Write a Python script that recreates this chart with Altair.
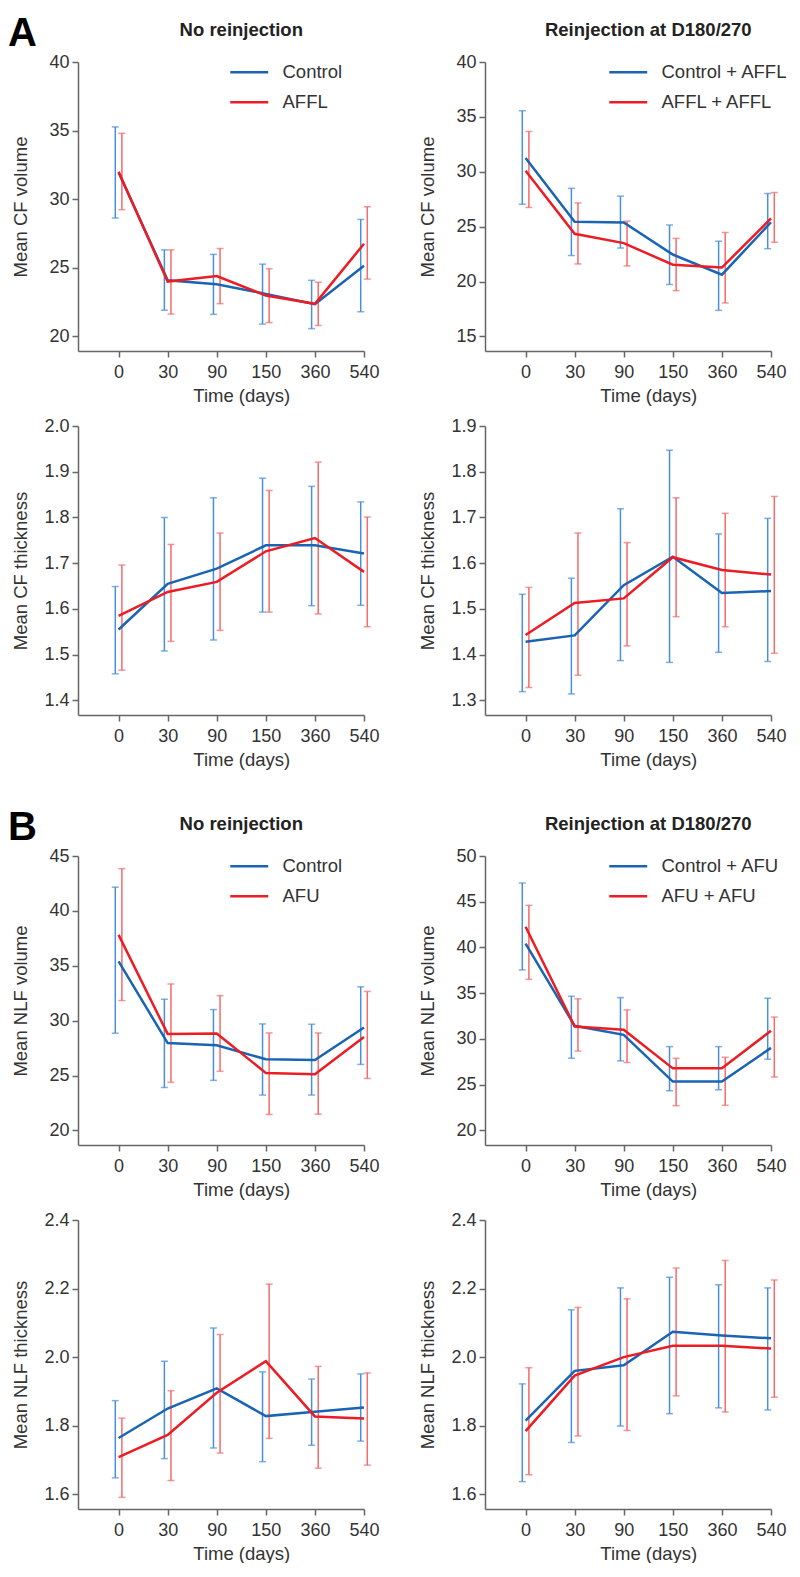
import altair as alt
import pandas as pd

FONT = "Liberation Sans"
TIME_LABELS = ["0", "30", "90", "150", "360", "540"]
TIME_IDX = [0, 1, 2, 3, 4, 5]

# ---- A, row 1: CF volume ----
a1_series = ["Control", "AFFL"]
a1_ctrl_mean = [31.95, 24.10, 23.80, 23.10, 22.35, 25.15]
a1_ctrl_lo = [28.63, 21.91, 21.61, 20.90, 20.57, 21.80]
a1_ctrl_hi = [35.27, 26.31, 25.98, 25.27, 24.09, 28.53]
a1_trt_mean = [32.00, 24.00, 24.40, 22.98, 22.38, 26.75]
a1_trt_lo = [29.24, 21.63, 22.39, 21.01, 20.80, 24.18]
a1_trt_hi = [34.80, 26.31, 26.41, 24.94, 23.95, 29.45]

a2_series = ["Control + AFFL", "AFFL + AFFL"]
a2_ctrl_mean = [31.25, 25.44, 25.38, 22.46, 20.62, 25.40]
a2_ctrl_lo = [27.04, 22.37, 23.05, 19.73, 17.37, 22.99]
a2_ctrl_hi = [35.56, 28.49, 27.78, 25.15, 23.67, 28.02]
a2_trt_mean = [30.10, 24.35, 23.50, 21.53, 21.27, 25.75]
a2_trt_lo = [26.75, 21.60, 21.42, 19.17, 18.05, 23.58]
a2_trt_hi = [33.67, 27.16, 25.50, 23.93, 24.47, 28.11]

# ---- A, row 2: CF thickness ----
a3_ctrl_mean = [1.555, 1.655, 1.688, 1.739, 1.739, 1.721]
a3_ctrl_lo = [1.458, 1.508, 1.532, 1.593, 1.607, 1.608]
a3_ctrl_hi = [1.649, 1.800, 1.843, 1.886, 1.868, 1.834]
a3_trt_mean = [1.585, 1.637, 1.659, 1.726, 1.755, 1.681]
a3_trt_lo = [1.466, 1.529, 1.553, 1.593, 1.589, 1.561]
a3_trt_hi = [1.696, 1.741, 1.766, 1.859, 1.921, 1.801]

a4_ctrl_mean = [1.428, 1.442, 1.552, 1.614, 1.535, 1.539]
a4_ctrl_lo = [1.319, 1.314, 1.387, 1.383, 1.405, 1.385]
a4_ctrl_hi = [1.532, 1.567, 1.719, 1.847, 1.664, 1.698]
a4_trt_mean = [1.443, 1.513, 1.523, 1.613, 1.585, 1.575]
a4_trt_lo = [1.328, 1.355, 1.419, 1.483, 1.461, 1.403]
a4_trt_hi = [1.547, 1.666, 1.645, 1.743, 1.709, 1.746]

# ---- B, row 3: NLF volume ----
b1_series = ["Control", "AFU"]
b1_ctrl_mean = [35.40, 27.96, 27.75, 26.48, 26.42, 29.38]
b1_ctrl_lo = [28.85, 23.91, 24.56, 23.22, 23.22, 26.01]
b1_ctrl_hi = [42.16, 31.95, 31.01, 29.70, 29.67, 33.08]
b1_trt_mean = [37.81, 28.79, 28.82, 25.24, 25.12, 28.52]
b1_trt_lo = [31.83, 24.38, 25.38, 21.45, 21.48, 24.73]
b1_trt_hi = [43.85, 33.34, 32.28, 28.88, 28.88, 32.66]

b2_series = ["Control + AFU", "AFU + AFU"]
b2_ctrl_mean = [40.42, 31.43, 30.44, 25.33, 25.33, 29.02]
b2_ctrl_lo = [37.54, 27.88, 27.60, 24.33, 24.44, 27.78]
b2_ctrl_hi = [47.05, 34.66, 34.52, 29.16, 29.16, 34.45]
b2_trt_mean = [42.26, 31.36, 31.01, 26.78, 26.78, 30.90]
b2_trt_lo = [36.51, 28.67, 27.42, 22.70, 22.74, 25.83]
b2_trt_hi = [44.60, 34.38, 33.17, 27.88, 27.99, 32.39]

# ---- B, row 4: NLF thickness ----
b3_ctrl_mean = [1.764, 1.850, 1.909, 1.828, 1.841, 1.853]
b3_ctrl_lo = [1.648, 1.704, 1.735, 1.695, 1.743, 1.755]
b3_ctrl_hi = [1.873, 1.988, 2.085, 1.957, 1.936, 1.951]
b3_trt_mean = [1.708, 1.773, 1.896, 1.988, 1.827, 1.821]
b3_trt_lo = [1.591, 1.640, 1.720, 1.763, 1.676, 1.685]
b3_trt_hi = [1.822, 1.902, 2.066, 2.213, 1.973, 1.954]

b4_ctrl_mean = [1.815, 1.960, 1.976, 2.074, 2.063, 2.055]
b4_ctrl_lo = [1.637, 1.751, 1.799, 1.835, 1.852, 1.846]
b4_ctrl_hi = [1.922, 2.138, 2.202, 2.233, 2.211, 2.202]
b4_trt_mean = [1.784, 1.946, 2.000, 2.033, 2.033, 2.025]
b4_trt_lo = [1.657, 1.770, 1.786, 1.887, 1.840, 1.883]
b4_trt_hi = [1.969, 2.145, 2.170, 2.260, 2.282, 2.225]

BLUE = "#1a64b4"
RED = "#ec1c24"
BLUE_EB = "#4a8fd8"
RED_EB = "#f46b6b"
W, H = 286, 289
X_DOMAIN = [-0.827, 5]
X0_PX = W * (-X_DOMAIN[0]) / (X_DOMAIN[1] - X_DOMAIN[0])
TICK_CENTER = (X0_PX + W) / 2
LABEL_EXPR = str(TIME_LABELS) + "[datum.value]"


def panel(series, ctrl, trt, ydom, yvals, yfmt, ytitle, title=None,
          legend_x=None, letter=None):
    rows = []
    for name, (m, lo, hi) in zip(series, [ctrl, trt]):
        for i in TIME_IDX:
            rows.append(dict(t=i, series=name, mean=m[i], lo=lo[i], hi=hi[i]))
    df = pd.DataFrame(rows)
    xaxis = alt.Axis(values=TIME_IDX, labelExpr=LABEL_EXPR, title="Time (days)",
                     titleX=TICK_CENTER, titleY=44, titleBaseline="middle",
                     titleAlign="center", labelPadding=6)
    x = alt.X("t:Q", scale=alt.Scale(domain=X_DOMAIN, nice=False, zero=False),
              axis=xaxis)
    yscale = alt.Scale(domain=ydom, nice=False, zero=False)
    yaxis = alt.Axis(values=yvals, format=yfmt, title=ytitle, titleX=-58,
                     titleBaseline="middle")
    base = alt.Chart(df)
    layers = []
    for name, eb, off in [(series[0], BLUE_EB, -3.3), (series[1], RED_EB, 3.3)]:
        sub = base.transform_filter(alt.datum.series == name)
        layers.append(sub.mark_rule(color=eb, strokeWidth=1.5, xOffset=off).encode(
            x=x, y=alt.Y("lo:Q", scale=yscale, axis=yaxis), y2=alt.Y2("hi:Q")))
        for f in ["lo", "hi"]:
            layers.append(sub.mark_tick(color=eb, orient="horizontal", size=7,
                                        thickness=1.5, xOffset=off).encode(
                x=x, y=alt.Y(f + ":Q", scale=yscale, axis=yaxis)))
    cscale = alt.Scale(domain=series, range=[BLUE, RED])
    if legend_x is not None:
        leg = alt.Legend(orient="none", legendX=legend_x, legendY=1, title=None,
                         symbolType="M-3,0H3", symbolSize=160, symbolStrokeWidth=2.5,
                         labelFontSize=18.5, labelFont=FONT, labelColor="#333",
                         labelOffset=24, rowPadding=11, padding=0)
        color = alt.Color("series:N", scale=cscale, legend=leg)
    else:
        color = alt.Color("series:N", scale=cscale, legend=None)
    layers.append(base.mark_line(strokeWidth=2.5).encode(
        x=x, y=alt.Y("mean:Q", scale=yscale, axis=yaxis), color=color))
    if title:
        layers.append(alt.Chart(pd.DataFrame({"t": [title]})).mark_text(
            fontSize=18.5, fontWeight="bold", font=FONT, align="center",
            baseline="middle", color="#222").encode(
            x=alt.value(TICK_CENTER), y=alt.value(-32), text="t:N"))
    if letter:
        layers.append(alt.Chart(pd.DataFrame({"t": [letter]})).mark_text(
            fontSize=40, fontWeight="bold", font=FONT, align="left",
            baseline="alphabetic", color="#000").encode(
            x=alt.value(-70), y=alt.value(-16), text="t:N"))
    return alt.layer(*layers).properties(width=W, height=H)


LEG_L, LEG_R = 162, 134

p1 = panel(a1_series, (a1_ctrl_mean, a1_ctrl_lo, a1_ctrl_hi),
           (a1_trt_mean, a1_trt_lo, a1_trt_hi), [18.94, 40], [20, 25, 30, 35, 40],
           "d", "Mean CF volume", title="No reinjection", legend_x=LEG_L, letter="A")
p2 = panel(a2_series, (a2_ctrl_mean, a2_ctrl_lo, a2_ctrl_hi),
           (a2_trt_mean, a2_trt_lo, a2_trt_hi), [13.67, 40], [15, 20, 25, 30, 35, 40],
           "d", "Mean CF volume", title="Reinjection at D180/270", legend_x=LEG_R)
p3 = panel(a1_series, (a3_ctrl_mean, a3_ctrl_lo, a3_ctrl_hi),
           (a3_trt_mean, a3_trt_lo, a3_trt_hi), [1.368, 2.0],
           [1.4, 1.5, 1.6, 1.7, 1.8, 1.9, 2.0], ".1f", "Mean CF thickness")
p4 = panel(a2_series, (a4_ctrl_mean, a4_ctrl_lo, a4_ctrl_hi),
           (a4_trt_mean, a4_trt_lo, a4_trt_hi), [1.268, 1.9],
           [1.3, 1.4, 1.5, 1.6, 1.7, 1.8, 1.9], ".1f", "Mean CF thickness")
p5 = panel(b1_series, (b1_ctrl_mean, b1_ctrl_lo, b1_ctrl_hi),
           (b1_trt_mean, b1_trt_lo, b1_trt_hi), [18.67, 45], [20, 25, 30, 35, 40, 45],
           "d", "Mean NLF volume", title="No reinjection", legend_x=LEG_L, letter="B")
p6 = panel(b2_series, (b2_ctrl_mean, b2_ctrl_lo, b2_ctrl_hi),
           (b2_trt_mean, b2_trt_lo, b2_trt_hi), [18.4, 50],
           [20, 25, 30, 35, 40, 45, 50], "d", "Mean NLF volume",
           title="Reinjection at D180/270", legend_x=LEG_R)
p7 = panel(b1_series, (b3_ctrl_mean, b3_ctrl_lo, b3_ctrl_hi),
           (b3_trt_mean, b3_trt_lo, b3_trt_hi), [1.557, 2.4],
           [1.6, 1.8, 2.0, 2.2, 2.4], ".1f", "Mean NLF thickness")
p8 = panel(b2_series, (b4_ctrl_mean, b4_ctrl_lo, b4_ctrl_hi),
           (b4_trt_mean, b4_trt_lo, b4_trt_hi), [1.557, 2.4],
           [1.6, 1.8, 2.0, 2.2, 2.4], ".1f", "Mean NLF thickness")


def hrow(a, b):
    return alt.hconcat(a, b, spacing=121, bounds="flush").resolve_scale(
        color="independent", x="independent", y="independent").resolve_legend(
        color="independent")


def vblock(r1, r2, sp):
    return alt.vconcat(r1, r2, spacing=sp).resolve_scale(
        color="independent", x="independent", y="independent").resolve_legend(
        color="independent")


blockA = vblock(hrow(p1, p2), hrow(p3, p4), 12)
blockB = vblock(hrow(p5, p6), hrow(p7, p8), 12)
chart = alt.vconcat(blockA, blockB, spacing=39,
                    padding={"top": 6, "left": 0, "right": 0, "bottom": 0}).resolve_scale(
    color="independent", x="independent", y="independent").resolve_legend(
    color="independent")

chart = chart.configure_axis(
    domainColor="#666", tickColor="#666", domainWidth=1.5, tickWidth=1.5,
    tickSize=6, labelFont=FONT, labelFontSize=18, labelColor="#333",
    titleFont=FONT, titleFontSize=18.5, titleColor="#333", titleFontWeight="normal",
    grid=False, labelPadding=3, labelFlush=False, labelOverlap=False
).configure_view(strokeWidth=0)

chart.save("out.html", embed_options={"renderer": "svg", "actions": False})
